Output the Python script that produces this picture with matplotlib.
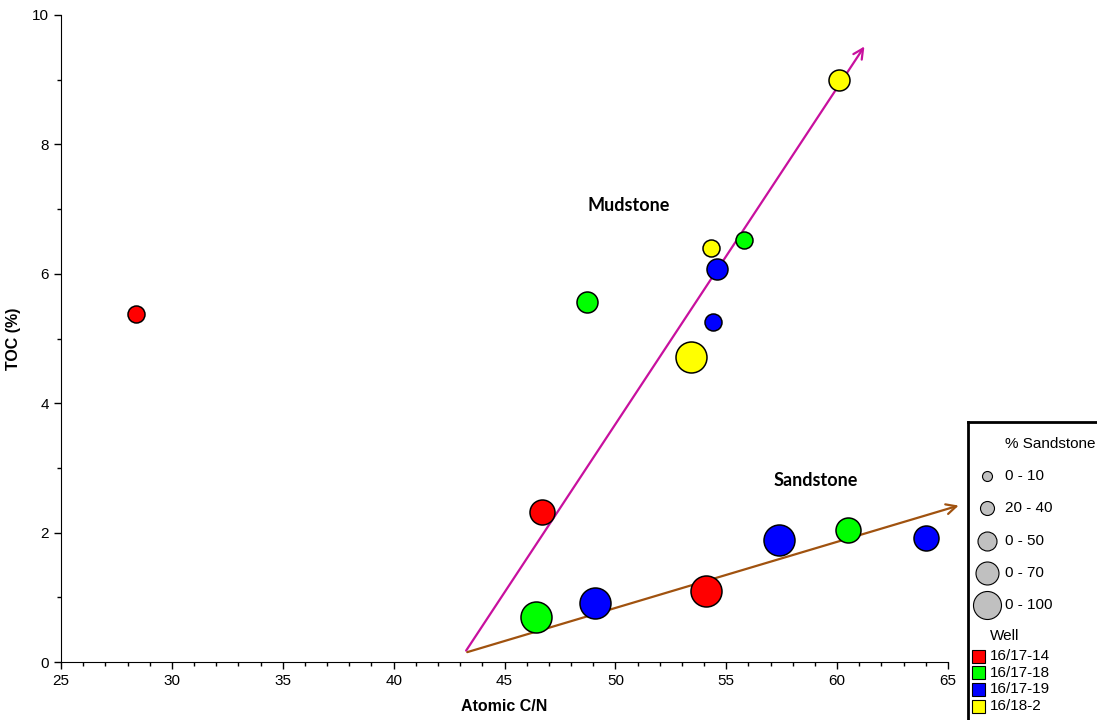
import matplotlib.pyplot as plt
from matplotlib.ticker import MultipleLocator
from matplotlib.patches import Rectangle

plt.rcParams['font.family'] = ['Liberation Sans', 'DejaVu Sans']

# data: atomic C/N, TOC (%), well, sandstone class (index into size_labels)
cn = [28.4, 48.7, 54.3, 55.8, 54.6, 54.4, 53.4, 60.1,
      46.7, 46.4, 49.1, 54.1, 57.4, 60.5, 64.0]
toc = [5.38, 5.56, 6.40, 6.52, 6.07, 5.25, 4.71, 9.00,
       2.32, 0.70, 0.91, 1.10, 1.89, 2.04, 1.92]
well = ['16/17-14', '16/17-18', '16/18-2', '16/17-18', '16/17-19', '16/17-19', '16/18-2', '16/18-2',
        '16/17-14', '16/17-18', '16/17-19', '16/17-14', '16/17-19', '16/17-18', '16/17-19']
sand_class = [0, 1, 0, 0, 1, 0, 4, 1, 2, 4, 4, 4, 4, 2, 2]

wells = ['16/17-14', '16/17-18', '16/17-19', '16/18-2']
well_colors = {'16/17-14': '#ff0000', '16/17-18': '#00ff00',
               '16/17-19': '#0000ff', '16/18-2': '#ffff00'}
size_labels = ['0 - 10', '20 - 40', '0 - 50', '0 - 70', '0 - 100']
marker_px = [17, 21, 25, 28, 31]
legend_px = [10, 14, 19, 23, 28]

fig = plt.figure(figsize=(10.97, 7.2), dpi=100)
ax = fig.add_axes([61 / 1097, 58 / 720, 887 / 1097, 647 / 720])

for x, y, w, c in zip(cn, toc, well, sand_class):
    ax.plot(x, y, 'o', ms=marker_px[c] * 0.72, mfc=well_colors[w],
            mec='black', mew=1.1, zorder=3, clip_on=False)

# trend arrows
ax.annotate('', xy=(61.3, 9.55), xytext=(43.2, 0.14),
            arrowprops=dict(arrowstyle='->', color='#c8109e', lw=1.6,
                            mutation_scale=18), annotation_clip=False, zorder=2)
ax.annotate('', xy=(65.6, 2.43), xytext=(43.2, 0.14),
            arrowprops=dict(arrowstyle='->', color='#a0520f', lw=1.6,
                            mutation_scale=18), annotation_clip=False, zorder=2)

ax.text(50.6, 7.05, 'Mudstone', fontsize=13, fontweight='bold',
        family=['Lato', 'DejaVu Sans'], ha='center', va='center')
ax.text(59.05, 2.81, 'Sandstone', fontsize=13, fontweight='bold',
        family=['Lato', 'DejaVu Sans'], ha='center', va='center')

ax.set_xlim(25, 65)
ax.set_ylim(0, 10)
ax.xaxis.set_major_locator(MultipleLocator(5))
ax.xaxis.set_minor_locator(MultipleLocator(1))
ax.yaxis.set_major_locator(MultipleLocator(2))
ax.yaxis.set_minor_locator(MultipleLocator(1))
ax.tick_params(which='major', direction='out', length=5, width=1, labelsize=11)
ax.tick_params(which='minor', direction='out', length=3, width=1)
for s in ['top', 'right']:
    ax.spines[s].set_visible(False)
ax.set_xlabel('Atomic C/N', fontsize=11.5, fontweight='bold', labelpad=8)
ax.set_ylabel('TOC (%)', fontsize=11.5, fontweight='bold', labelpad=8)

# legend box
lg = fig.add_axes([968 / 1097, 0, 140 / 1097, 298 / 720])
lg.set_xlim(968, 1108)
lg.set_ylim(720, 422)
lg.set_xticks([])
lg.set_yticks([])
for s in ['right', 'bottom']:
    lg.spines[s].set_visible(False)
for s in ['left', 'top']:
    lg.spines[s].set_linewidth(2)

lg.text(1005, 444, '% Sandstone', fontsize=11, va='center', ha='left')
for i, lab in enumerate(size_labels):
    yy = 476 + i * 32.3
    lg.plot(987, yy, 'o', ms=legend_px[i] * 0.72, mfc='#c0c0c0', mec='black', mew=0.8)
    lg.text(1005, yy, lab, fontsize=11, va='center', ha='left')
lg.text(990, 636, 'Well', fontsize=11, va='center', ha='left')
for i, w in enumerate(wells):
    yy = 656 + i * 16.7
    lg.add_patch(Rectangle((972, yy - 6.5), 13, 13, facecolor=well_colors[w],
                           edgecolor='black', lw=0.8))
    lg.text(990, yy, w, fontsize=11, va='center', ha='left')

fig.savefig('out.png', dpi=100)
